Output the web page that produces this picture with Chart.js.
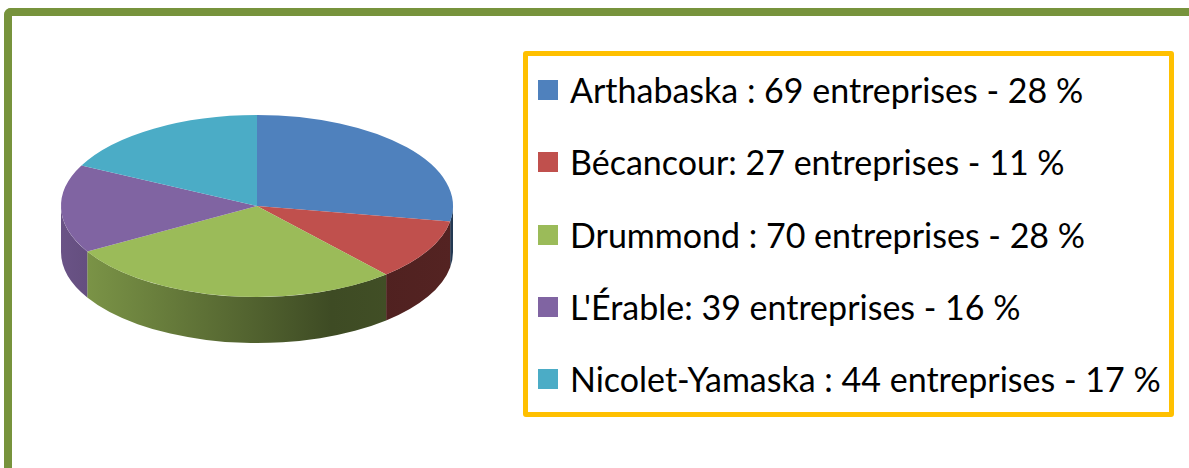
<!DOCTYPE html>
<html lang="fr">
<head>
<meta charset="utf-8">
<title>Entreprises par MRC</title>
<script src="https://cdn.jsdelivr.net/npm/chart.js@4.4.1/dist/chart.umd.min.js"></script>
<style>
  html, body { margin: 0; padding: 0; background: #fff; width: 1189px; height: 468px; overflow: hidden; }
  #cadre {
    position: absolute; left: 4px; top: 8px; width: 1400px; height: 700px;
    border-top: 8px solid #77933c; border-left: 8px solid #77933c;
    border-top-left-radius: 7px; box-sizing: border-box;
  }
  #zonePie { position: absolute; left: 0; top: 0; width: 520px; height: 468px; }
  #legende {
    position: absolute; left: 523px; top: 51px; width: 651px; height: 366px;
    border: 5px solid #ffc000; border-radius: 3px; box-sizing: border-box;
    font-family: Lato, 'Open Sans', sans-serif; font-size: 34px; color: #000;
  }
  .item { position: absolute; left: 0; height: 72px; line-height: 72px; white-space: nowrap; }
  .carre { position: absolute; left: 10px; top: 26px; width: 20px; height: 20px; }
  .texte { position: absolute; left: 42px; top: 0; }
</style>
</head>
<body>
<div id="cadre"></div>
<div id="zonePie"><canvas id="myChart"></canvas></div>
<div id="legende"></div>

<script>
// données
const regions = ['Arthabaska', 'Bécancour', 'Drummond', "L'Érable", 'Nicolet-Yamaska'];
const separateurs = [' : ', ': ', ' : ', ': ', ' : '];
const entreprises = [69, 27, 70, 39, 44];
const pourcentages = [28, 11, 28, 16, 17];

const couleurs = ['#4f81bd', '#c0504d', '#9bbb59', '#8064a2', '#4bacc6'];

// effet 3D : aplatissement du dessus + flancs
const aplat = 91 / 196;
const epaisseur = 46;
const centreY = 206;

function ombre(hex, f) {
  const n = parseInt(hex.slice(1), 16);
  const r = Math.round(((n >> 16) & 255) * f);
  const g = Math.round(((n >> 8) & 255) * f);
  const b = Math.round((n & 255) * f);
  return 'rgb(' + r + ',' + g + ',' + b + ')';
}

const pie3d = {
  id: 'pie3d',
  beforeDatasetsDraw(chart) {
    const ctx = chart.ctx;
    const arcs = chart.getDatasetMeta(0).data;
    if (!arcs.length) return;
    const cx = arcs[0].x, cy = arcs[0].y, R = arcs[0].outerRadius;

    arcs.forEach((arc, i) => {
      const a = Math.max(arc.startAngle, 0);
      const b = Math.min(arc.endAngle, Math.PI);
      if (b <= a) return;
      const grad = ctx.createLinearGradient(cx - R, 0, cx + R, 0);
      grad.addColorStop(0, ombre(couleurs[i], 0.83));
      grad.addColorStop(0.69, ombre(couleurs[i], 0.40));
      grad.addColorStop(1, ombre(couleurs[i], 0.44));
      ctx.beginPath();
      ctx.ellipse(cx, centreY, R, R * aplat, 0, a, b);
      ctx.ellipse(cx, centreY + epaisseur, R, R * aplat, 0, b, a, true);
      ctx.closePath();
      ctx.fillStyle = grad;
      ctx.fill();
    });

    // le dessus du camembert est dessiné par Chart.js, aplati
    ctx.save();
    ctx.translate(0, centreY);
    ctx.scale(1, aplat);
    ctx.translate(0, -cy);
  },
  afterDatasetsDraw(chart) {
    chart.ctx.restore();
  }
};

const ctx = document.getElementById('myChart');

const data = {
  labels: regions,
  datasets: [{
    data: entreprises,
    backgroundColor: couleurs,
    borderWidth: 0,
    offset: 0,
    hoverOffset: 0,
    clip: false
  }]
};

const config = {
  type: 'pie',
  data: data,
  options: {
    responsive: true,
    maintainAspectRatio: false,
    animation: false,
    events: [],
    layout: { padding: { left: 61, right: 67, top: 0, bottom: 0 } },
    plugins: {
      legend: { display: false },
      tooltip: { enabled: false }
    }
  },
  plugins: [pie3d]
};
const myChart = new Chart(ctx, config);

// légende
const legende = document.getElementById('legende');
regions.forEach((nom, i) => {
  const item = document.createElement('div');
  item.className = 'item';
  item.style.top = (-2 + i * 72.3) + 'px';
  const carre = document.createElement('div');
  carre.className = 'carre';
  carre.style.background = couleurs[i];
  const texte = document.createElement('span');
  texte.className = 'texte';
  texte.textContent = nom + separateurs[i] + entreprises[i] + ' entreprises - ' + pourcentages[i] + ' %';
  item.appendChild(carre);
  item.appendChild(texte);
  legende.appendChild(item);
});
</script>
</body>
</html>
